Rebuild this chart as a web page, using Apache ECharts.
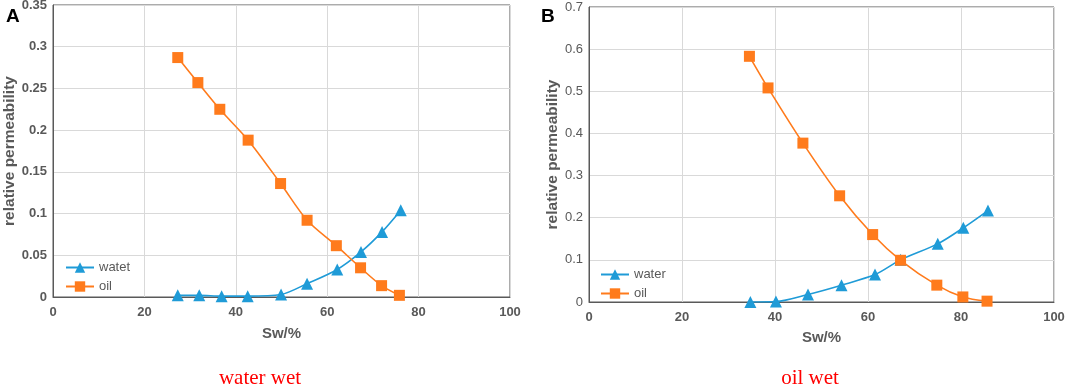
<!DOCTYPE html>
<html>
<head>
<meta charset="utf-8">
<title>relative permeability</title>
<script src="https://cdn.jsdelivr.net/npm/echarts@6/dist/echarts.min.js"></script>
</head>
<body style="margin:0;background:#fff">
<div id="root" style="width:1065px;height:386px"></div>
<script>
// A: water wet
var swWaterA = [27.3, 32.0, 36.9, 42.6, 49.9, 55.6, 62.2, 67.4, 72.0, 76.1];
var krwA = [0.002, 0.002, 0.001, 0.001, 0.003, 0.016, 0.033, 0.054, 0.078, 0.104];
var swOilA = [27.3, 31.7, 36.5, 42.7, 49.8, 55.6, 62.0, 67.3, 71.9, 75.8];
var kroA = [0.287, 0.257, 0.225, 0.188, 0.136, 0.092, 0.0615, 0.035, 0.0136, 0.002];
// B: oil wet
var swWaterB = [34.7, 40.2, 47.1, 54.3, 61.5, 67.0, 75.0, 80.5, 85.8];
var krwB = [0.0, 0.001, 0.018, 0.040, 0.065, 0.100, 0.138, 0.176, 0.217];
var swOilB = [34.5, 38.5, 46.0, 53.9, 61.0, 67.0, 74.8, 80.4, 85.6];
var kroB = [0.583, 0.508, 0.377, 0.252, 0.160, 0.099, 0.040, 0.012, 0.002];

var blue = '#1f9bd7';
var orange = '#ff7b1c';
var grey = '#595959';

function pairs(xs, ys) {
    return xs.map(function (x, i) { return [x, ys[i]]; });
}

function xAxisFor(idx, gap) {
    return {
        gridIndex: idx, type: 'value', min: 0, max: 100, interval: 20,
        name: 'Sw/%', nameLocation: 'middle', nameGap: gap,
        nameTextStyle: { color: grey, fontSize: 15, fontWeight: 'bold', fontFamily: 'Liberation Sans' },
        axisLine: { lineStyle: { color: grey } },
        axisTick: { show: false },
        axisLabel: { color: grey, fontSize: 13, fontWeight: 'bold', fontFamily: 'Liberation Sans', margin: 9 },
        splitLine: { show: true, lineStyle: { color: '#d9d9d9' } }
    };
}

function yAxisFor(idx, max, interval, bold, gap) {
    return {
        gridIndex: idx, type: 'value', min: 0, max: max, interval: interval,
        name: 'relative permeability', nameLocation: 'middle', nameGap: gap,
        nameTextStyle: { color: grey, fontSize: 15.5, fontWeight: 'bold', fontFamily: 'Liberation Sans' },
        axisLine: { show: true, lineStyle: { color: grey } },
        axisTick: { show: false },
        axisLabel: { color: grey, fontSize: 13, fontWeight: bold ? 'bold' : 'normal', fontFamily: 'Liberation Sans', margin: 6 },
        splitLine: { show: true, lineStyle: { color: '#d9d9d9' } }
    };
}

function lineSeries(name, idx, data, color, symbol, size) {
    return {
        name: name, type: 'line', xAxisIndex: idx, yAxisIndex: idx,
        data: data, smooth: 0.3, symbol: symbol, symbolSize: size,
        lineStyle: { color: color, width: 1.6 },
        itemStyle: { color: color }
    };
}

var myChart = echarts.init(document.getElementById('root'));
var option = {
    animation: false,
    grid: [
        { left: 53, right: 555, top: 5, bottom: 89, show: true, borderColor: grey, borderWidth: 1, outerBoundsMode: 'none' },
        { left: 589, right: 11, top: 7, bottom: 84, show: true, borderColor: grey, borderWidth: 1, outerBoundsMode: 'none' }
    ],
    title: [
        { text: 'A', left: 1, top: 2, textStyle: { fontSize: 19, fontWeight: 'bold', color: '#000', fontFamily: 'Liberation Sans' } },
        { text: 'B', left: 536, top: 2, textStyle: { fontSize: 19, fontWeight: 'bold', color: '#000', fontFamily: 'Liberation Sans' } },
        { text: 'water wet', left: 255, top: 363, textAlign: 'center', textStyle: { fontSize: 21, fontWeight: 'normal', color: '#ff0000', fontFamily: 'Liberation Serif' } },
        { text: 'oil wet', left: 805, top: 363, textAlign: 'center', textStyle: { fontSize: 21, fontWeight: 'normal', color: '#ff0000', fontFamily: 'Liberation Serif' } }
    ],
    legend: [
        {
            data: ['watet', 'oil'], orient: 'vertical', left: 60, top: 256,
            itemWidth: 28, itemHeight: 13, itemGap: 6,
            textStyle: { color: grey, fontSize: 13, fontFamily: 'Liberation Sans' }
        },
        {
            data: ['water', 'oil'], orient: 'vertical', left: 595, top: 263,
            itemWidth: 28, itemHeight: 13, itemGap: 6,
            textStyle: { color: grey, fontSize: 13, fontFamily: 'Liberation Sans' }
        }
    ],
    xAxis: [xAxisFor(0, 29), xAxisFor(1, 28)],
    yAxis: [yAxisFor(0, 0.35, 0.05, true, 33), yAxisFor(1, 0.7, 0.1, false, 25)],
    series: [
        lineSeries('watet', 0, pairs(swWaterA, krwA), blue, 'triangle', 12),
        lineSeries('oil', 0, pairs(swOilA, kroA), orange, 'rect', 11),
        lineSeries('water', 1, pairs(swWaterB, krwB), blue, 'triangle', 12),
        lineSeries('oil', 1, pairs(swOilB, kroB), orange, 'rect', 11)
    ]
};
myChart.setOption(option, true);
</script>
</body>
</html>
